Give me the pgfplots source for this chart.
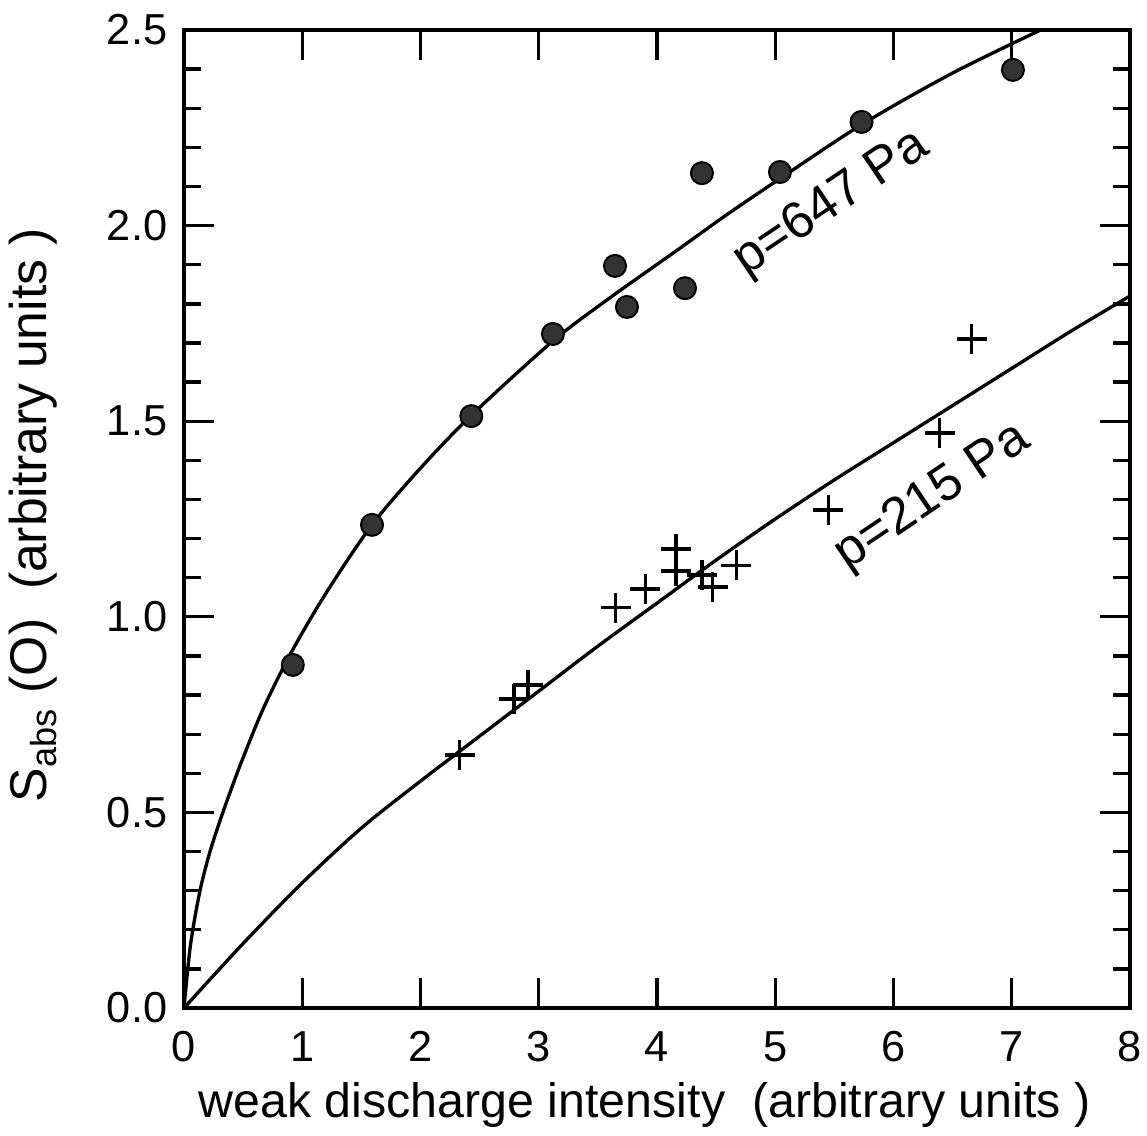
\documentclass[border=0pt]{standalone}
\usepackage{fontspec}
\setmainfont{Liberation Sans}
\usepackage{pgfplots}
\pgfplotsset{compat=1.18}
\begin{document}
\begin{tikzpicture}
\useasboundingbox (-55.2pt,-38.1pt) rectangle (288.9pt,302.4pt);
\begin{axis}[
 at={(0pt,0pt)}, anchor=south west,
 scale only axis, width=283.8pt, height=293.4pt,
 xmin=0, xmax=8, ymin=0, ymax=2.5,
 axis line style={line width=1.2pt},
 xtick={0,1,...,8}, ytick={0,0.5,...,2.5},
 minor y tick num=4,
 tick align=inside,
 major tick length=9pt, minor tick length=5pt,
 every tick/.style={black, line width=1pt},
 /pgf/number format/assume math mode=true,
 ticklabel style={font=\fontsize{13}{16}\selectfont},
 xticklabel style={yshift=-3.5pt},
 yticklabel style={xshift=-1.5pt, /pgf/number format/.cd, fixed, fixed zerofill, precision=1},
 xlabel={weak discharge intensity\ \ (arbitrary units )},
 ylabel={S\textsubscript{abs} (O)\ \ (arbitrary units )},
 xlabel style={at={(axis description cs:0.487,-0.1115)}, anchor=base, font=\fontsize{14.5}{17}\selectfont},
 ylabel style={at={(axis description cs:-0.1596,0.504)}, anchor=center, font=\fontsize{15.5}{18}\selectfont},
 clip=true,
]
% 647 Pa fitted curve
\addplot[black, line width=1pt, smooth] coordinates {
 (0,0) (0.05,0.15) (0.1,0.245) (0.15,0.32) (0.22,0.40) (0.3,0.475) (0.4,0.56) (0.5,0.64)
 (0.67,0.765) (0.9,0.905) (1.2,1.06) (1.59,1.235) (2.0,1.38) (2.43,1.515) (3.12,1.705)
 (3.6,1.815) (4.17,1.937) (4.6,2.03) (5.04,2.12) (5.73,2.258) (6.5,2.39) (7.3,2.508)
};
% 215 Pa fitted curve
\addplot[black, line width=1pt, smooth] coordinates {
 (0,0) (0.5,0.165) (1,0.32) (1.5,0.46) (2,0.58) (2.5,0.695) (3,0.81) (3.5,0.925)
 (4,1.035) (4.5,1.145) (5,1.25) (5.5,1.35) (6,1.445) (6.5,1.54) (7,1.635) (7.5,1.73) (8,1.82)
};
% 647 Pa data
\addplot[only marks, mark=*, mark size=3.3pt, mark options={fill=black!80, draw=black, line width=0.6pt}] coordinates {
 (0.92,0.877) (1.59,1.235) (2.43,1.513) (3.12,1.723) (3.645,1.897) (3.746,1.792)
 (4.38,2.134) (4.237,1.840) (5.04,2.137) (5.73,2.265) (7.01,2.398)
};
% 215 Pa data
\addplot[only marks, mark=+, mark size=4.5pt, mark options={line width=1pt}] coordinates {
 (2.33,0.647) (2.79,0.79) (2.91,0.826) (3.65,1.023) (3.90,1.071) (4.16,1.173)
 (4.16,1.117) (4.38,1.107) (4.47,1.076) (4.67,1.132) (5.45,1.273) (6.39,1.470) (6.66,1.710)
};
\node[rotate=34, font=\fontsize{15.5}{18}\selectfont] at (axis cs:5.48,2.055) {p=647 Pa};
\node[rotate=34, font=\fontsize{15.5}{18}\selectfont] at (axis cs:6.33,1.305) {p=215 Pa};
\end{axis}
\end{tikzpicture}
\end{document}
